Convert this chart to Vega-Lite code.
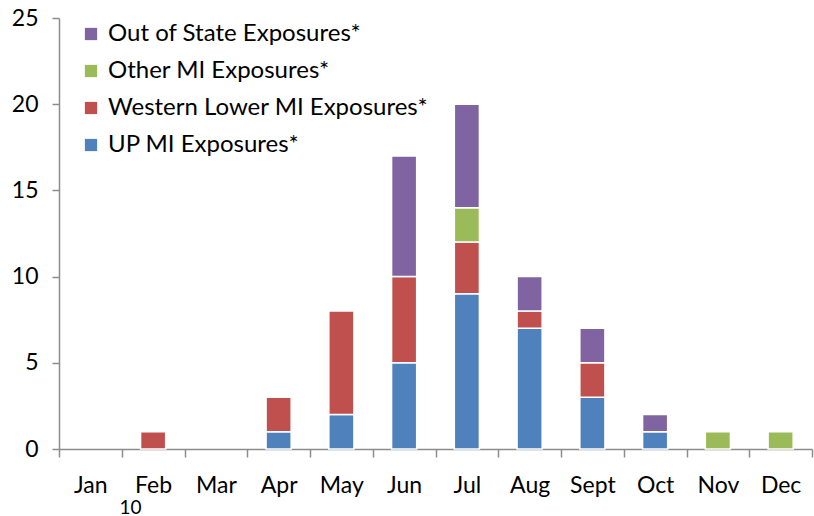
{
  "$schema": "https://vega.github.io/schema/vega-lite/v6.json",
  "width": 753,
  "height": 431,
  "autosize": {"type": "none"},
  "padding": {"left": 59, "top": 18, "right": 2, "bottom": 67},
  "background": "white",
  "config": {
    "view": {"stroke": null},
    "font": "Lato",
    "axis": {"grid": false, "domainColor": "#8c8c8c", "tickColor": "#8c8c8c", "domainWidth": 1.5, "tickWidth": 1.5, "labelColor": "black", "labelFontSize": 23, "labelFont": "Lato"}
  },
  "data": {
    "values": [
      {"month": "Feb", "series": "Western Lower MI Exposures*", "rank": 2, "value": 1},
      {"month": "Apr", "series": "UP MI Exposures*", "rank": 1, "value": 1},
      {"month": "Apr", "series": "Western Lower MI Exposures*", "rank": 2, "value": 2},
      {"month": "May", "series": "UP MI Exposures*", "rank": 1, "value": 2},
      {"month": "May", "series": "Western Lower MI Exposures*", "rank": 2, "value": 6},
      {"month": "Jun", "series": "UP MI Exposures*", "rank": 1, "value": 5},
      {"month": "Jun", "series": "Western Lower MI Exposures*", "rank": 2, "value": 5},
      {"month": "Jun", "series": "Out of State Exposures*", "rank": 4, "value": 7},
      {"month": "Jul", "series": "UP MI Exposures*", "rank": 1, "value": 9},
      {"month": "Jul", "series": "Western Lower MI Exposures*", "rank": 2, "value": 3},
      {"month": "Jul", "series": "Other MI Exposures*", "rank": 3, "value": 2},
      {"month": "Jul", "series": "Out of State Exposures*", "rank": 4, "value": 6},
      {"month": "Aug", "series": "UP MI Exposures*", "rank": 1, "value": 7},
      {"month": "Aug", "series": "Western Lower MI Exposures*", "rank": 2, "value": 1},
      {"month": "Aug", "series": "Out of State Exposures*", "rank": 4, "value": 2},
      {"month": "Sept", "series": "UP MI Exposures*", "rank": 1, "value": 3},
      {"month": "Sept", "series": "Western Lower MI Exposures*", "rank": 2, "value": 2},
      {"month": "Sept", "series": "Out of State Exposures*", "rank": 4, "value": 2},
      {"month": "Oct", "series": "UP MI Exposures*", "rank": 1, "value": 1},
      {"month": "Oct", "series": "Out of State Exposures*", "rank": 4, "value": 1},
      {"month": "Nov", "series": "Other MI Exposures*", "rank": 3, "value": 1},
      {"month": "Dec", "series": "Other MI Exposures*", "rank": 3, "value": 1}
    ]
  },
  "mark": {"type": "bar", "width": {"band": 0.4}, "stroke": "white", "strokeWidth": 1.5},
  "encoding": {
    "x": {
      "field": "month", "type": "nominal",
      "scale": {"domain": ["Jan","Feb","Mar","Apr","May","Jun","Jul","Aug","Sept","Oct","Nov","Dec"], "paddingInner": 0, "paddingOuter": 0},
      "axis": {"labelAngle": 0, "tickBand": "extent", "tickSize": 8, "labelPadding": 17, "title": "10", "titleFontSize": 19, "titleFontWeight": "normal", "titleX": 71, "titleY": 58, "titleBaseline": "middle", "titleAlign": "center", "titleAnchor": null}
    },
    "y": {
      "field": "value", "type": "quantitative", "aggregate": "sum",
      "scale": {"domain": [0, 25]},
      "axis": {"values": [0,5,10,15,20,25], "title": null, "tickSize": 7, "labelPadding": 14}
    },
    "color": {
      "field": "series", "type": "nominal",
      "scale": {"domain": ["Out of State Exposures*", "Other MI Exposures*", "Western Lower MI Exposures*", "UP MI Exposures*"], "range": ["#8064A2", "#9BBB59", "#C0504D", "#4F81BD"]},
      "legend": {"title": null, "orient": "none", "legendX": 20, "legendY": 4, "symbolType": "square", "symbolSize": 150, "symbolStrokeWidth": 0, "labelFontSize": 24, "labelFont": "Lato", "labelColor": "black", "labelLimit": 500, "rowPadding": 13, "labelOffset": 5}
    },
    "order": {"field": "rank", "type": "quantitative", "sort": "ascending"}
  }
}
